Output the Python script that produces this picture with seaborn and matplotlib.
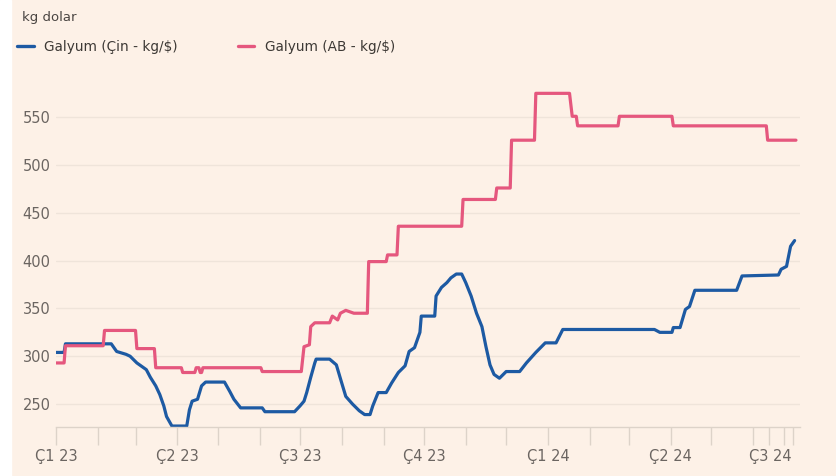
import pandas as pd
import matplotlib.pyplot as plt
import matplotlib.patches as mpatches
import seaborn as sns

# Galyum fiyatlari (kg/$), gun = 2023-01-01'den itibaren gun sayisi
cin_gun = [0, 6, 7, 41, 45, 52, 55, 60, 67, 70, 74, 77, 80, 82, 86, 97, 99, 101,
           105, 108, 111, 125, 129, 132, 137, 153, 155, 177, 181, 184, 186, 189,
           192, 193, 203, 208, 212, 215, 220, 225, 229, 233, 235, 239, 245, 249,
           254, 259, 262, 266, 270, 271, 281, 282, 286, 290, 293, 297, 301, 304,
           308, 312, 316, 319, 322, 325, 329, 334, 344, 349, 356, 363, 371, 376,
           444, 448, 457, 458, 463, 467, 470, 474, 505, 509, 536, 538, 542, 545, 548]
cin_deger = [304, 304, 313, 313, 305, 302, 300, 293, 286, 278, 269, 260, 248, 237,
             227, 227, 244, 253, 255, 269, 273, 273, 263, 255, 246, 246, 242, 242,
             248, 253, 262, 278, 293, 297, 297, 291, 272, 258, 250, 243, 239, 239,
             248, 262, 262, 272, 283, 290, 305, 309, 325, 342, 342, 363, 372, 377,
             382, 386, 386, 377, 363, 345, 331, 310, 291, 281, 277, 284, 284, 293,
             304, 314, 314, 328, 328, 325, 325, 330, 330, 349, 352, 369, 369, 384,
             385, 391, 394, 415, 421]

ab_gun = [0, 6, 7, 35, 36, 59, 60, 73, 74, 93, 94, 103, 104, 106, 107, 108, 109,
          152, 153, 182, 184, 188, 189, 192, 203, 205, 209, 211, 215, 221, 231,
          232, 245, 246, 253, 254, 301, 302, 326, 327, 337, 338, 355, 356, 381,
          383, 386, 387, 417, 418, 457, 458, 527, 528, 549]
ab_deger = [293, 293, 311, 311, 327, 327, 308, 308, 288, 288, 283, 283, 288, 288,
            283, 283, 288, 288, 284, 284, 310, 312, 331, 335, 335, 342, 338, 345,
            348, 345, 345, 399, 399, 406, 406, 436, 436, 464, 464, 476, 476, 526,
            526, 575, 575, 551, 551, 541, 541, 551, 551, 541, 541, 526, 526]

seri_adlari = ["Galyum (Çin - kg/$)", "Galyum (AB - kg/$)"]
renkler = ["#1d5aa3", "#e5577e"]

ceyrek_tarih = ["2023-01-01", "2023-04-01", "2023-07-01", "2023-10-01",
                "2024-01-01", "2024-04-01", "2024-07-01"]
ceyrek_etiket = ["Ç1 23", "Ç2 23", "Ç3 23", "Ç4 23", "Ç1 24", "Ç2 24", "Ç3 24"]
y_ticks = [250, 300, 350, 400, 450, 500, 550]

baslangic = pd.Timestamp("2023-01-01")
df = pd.concat([
    pd.DataFrame({"tarih": baslangic + pd.to_timedelta(cin_gun, unit="D"),
                  "fiyat": cin_deger, "seri": seri_adlari[0]}),
    pd.DataFrame({"tarih": baslangic + pd.to_timedelta(ab_gun, unit="D"),
                  "fiyat": ab_deger, "seri": seri_adlari[1]}),
])

bg = "#fdf1e7"
sns.set_style("white")
plt.rcParams["font.family"] = ["DejaVu Sans"]

fig = plt.figure(figsize=(8.36, 4.76), dpi=100, facecolor=bg)
ax = fig.add_axes([56 / 836, 1 - 427 / 476, 744 / 836, 348 / 476])
ax.set_facecolor(bg)
fig.patches.append(mpatches.Rectangle((0, 0), 11 / 836, 1, transform=fig.transFigure,
                                      color="white", zorder=-1))

sns.lineplot(data=df, x="tarih", y="fiyat", hue="seri", palette=renkler,
             linewidth=2.3, ax=ax, legend=False, sort=False, estimator=None)

ax.set_ylim(226, 590)
ax.set_xlim(baslangic, baslangic + pd.Timedelta(days=552))
ax.set_yticks(y_ticks)
ax.grid(axis="y", color="#efe4da", linewidth=1)
ax.grid(axis="x", visible=False)
for s in ["top", "right", "left"]:
    ax.spines[s].set_visible(False)
ax.spines["bottom"].set_color("#ddd3c9")
ax.spines["bottom"].set_linewidth(1)
ax.tick_params(axis="y", left=False, length=0, pad=4, labelsize=10.5,
               labelcolor="#6b6561")

# aylik tikler
ay_tik = list(pd.date_range("2023-01-01", "2024-07-01", freq="MS"))
ay_tik += [baslangic + pd.Timedelta(days=529), baslangic + pd.Timedelta(days=540)]
ax.set_xticks(ay_tik)
ax.set_xticklabels([""] * len(ay_tik))
ax.tick_params(axis="x", bottom=True, direction="out", length=13, width=1,
               color="#ddd3c9")
for t, lab in zip(ceyrek_tarih, ceyrek_etiket):
    ha = "right" if lab == "Ç3 24" else "center"
    ax.annotate(lab, xy=(pd.Timestamp(t), 0), xycoords=("data", "axes fraction"),
                xytext=(-2 if ha == "right" else 0, -29), textcoords="offset pixels",
                ha=ha, va="center", fontsize=10.5, color="#6b6561")
ax.set_xlabel("")
ax.set_ylabel("")

fig.text(22 / 836, 1 - 17 / 476, "kg dolar", fontsize=9.5, color="#4a4542",
         va="center", ha="left")
handles = [plt.Line2D([], [], color=c, linewidth=2.4) for c in renkler]
fig.legend(handles, seri_adlari, loc="center left", bbox_to_anchor=(5 / 836, 1 - 47 / 476),
           ncol=2, frameon=False, handlelength=1.2, handletextpad=0.8,
           columnspacing=4.4, fontsize=9.8, labelcolor="#3d3935")

fig.savefig("out.png", dpi=100, facecolor=bg)
